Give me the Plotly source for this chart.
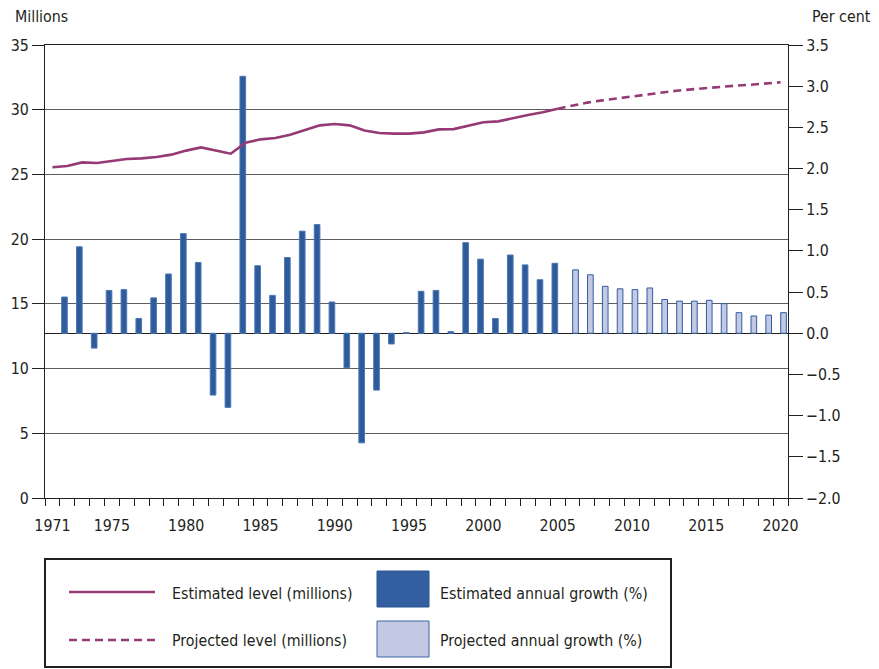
import plotly.graph_objects as go

# ---------------- data ----------------
years_est_level = list(range(1971, 2006))
est_level = [25.55, 25.65, 25.93, 25.88, 26.04, 26.19, 26.24, 26.35, 26.53, 26.84,
             27.09, 26.86, 26.60, 27.45, 27.71, 27.81, 28.07, 28.43, 28.79, 28.90,
             28.79, 28.40, 28.20, 28.15, 28.15, 28.25, 28.48, 28.50, 28.79, 29.03,
             29.10, 29.36, 29.59, 29.80, 30.08]

years_proj_level = list(range(2005, 2021))
proj_level = [30.08, 30.34, 30.55, 30.72, 30.88, 31.03, 31.19, 31.34, 31.47, 31.57,
              31.68, 31.75, 31.86, 31.93, 32.01, 32.12]

years_est_growth = list(range(1972, 2006))
est_growth = [0.44, 1.05, -0.18, 0.52, 0.53, 0.18, 0.43, 0.72, 1.21, 0.86,
              -0.75, -0.90, 3.12, 0.82, 0.46, 0.92, 1.24, 1.32, 0.38, -0.42,
              -1.33, -0.69, -0.13, 0.01, 0.51, 0.52, 0.02, 1.10, 0.90, 0.18,
              0.95, 0.83, 0.65, 0.85]

years_proj_growth = list(range(2006, 2021))
proj_growth = [0.77, 0.71, 0.57, 0.54, 0.53, 0.55, 0.41, 0.39, 0.39, 0.40,
               0.36, 0.25, 0.21, 0.22, 0.25]

x_tick_labels = [1971, 1975, 1980, 1985, 1990, 1995, 2000, 2005, 2010, 2015, 2020]

# ---------------- style ----------------
FONT = "DejaVu Sans Condensed, DejaVu Sans, sans-serif"
FS = 15.8
TXT = "#231f20"
LINE_C = "#953A74"
EST_FILL = "#2D5B9C"
EST_EDGE = "#4F78B4"
PROJ_FILL = "#C3C8E3"
PROJ_EDGE = "#2E5DA3"

W, H = 879, 669
L, R, T, B = 45, 788, 45, 498


def px(xp):
    return (xp - L) / (R - L)


def py(yp):
    return (B - yp) / (B - T)


fig = go.Figure()

fig.add_trace(go.Bar(
    x=years_est_growth, y=est_growth, name="Estimated annual growth (%)",
    yaxis="y", width=0.38, offset=-0.38,
    marker=dict(color=EST_FILL, line=dict(color=EST_EDGE, width=1)),
))
fig.add_trace(go.Bar(
    x=years_proj_growth, y=proj_growth, name="Projected annual growth (%)",
    yaxis="y", width=0.38, offset=0.01,
    marker=dict(color=PROJ_FILL, line=dict(color=PROJ_EDGE, width=1)),
))
fig.add_trace(go.Scatter(
    x=years_est_level, y=est_level, name="Estimated level (millions)",
    yaxis="y2", mode="lines", line=dict(color=LINE_C, width=2.6),
))
fig.add_trace(go.Scatter(
    x=years_proj_level, y=proj_level, name="Projected level (millions)",
    yaxis="y2", mode="lines", line=dict(color=LINE_C, width=2.6, dash="8px,5px"),
))

shapes = []
ann = []

# legend box
shapes.append(dict(type="rect", xref="paper", yref="paper",
                   x0=px(45), x1=px(671), y0=py(559), y1=py(667),
                   line=dict(color="#231f20", width=2), fillcolor="white"))
# line swatches
shapes.append(dict(type="line", xref="paper", yref="paper",
                   x0=px(69), x1=px(155), y0=py(592), y1=py(592),
                   line=dict(color=LINE_C, width=2.6)))
shapes.append(dict(type="line", xref="paper", yref="paper",
                   x0=px(69), x1=px(155), y0=py(640), y1=py(640),
                   line=dict(color=LINE_C, width=2.6, dash="8px,5px")))
# bar swatches
shapes.append(dict(type="rect", xref="paper", yref="paper",
                   x0=px(377), x1=px(429), y0=py(571), y1=py(607),
                   fillcolor="#335E9F", line=dict(color="#2A5597", width=1)))
shapes.append(dict(type="rect", xref="paper", yref="paper",
                   x0=px(377), x1=px(429), y0=py(621), y1=py(657),
                   fillcolor=PROJ_FILL, line=dict(color="#3A66A8", width=1)))

for text, xp, yp in [("Estimated level (millions)", 170, 593),
                     ("Projected level (millions)", 170, 640),
                     ("Estimated annual growth (%)", 438, 593),
                     ("Projected annual growth (%)", 438, 640)]:
    ann.append(dict(text=text, xref="paper", yref="paper", x=px(xp), y=py(yp),
                    xanchor="left", yanchor="middle", showarrow=False,
                    font=dict(family=FONT, size=FS, color=TXT)))

ann.append(dict(text="Millions", xref="paper", yref="paper", x=px(13), y=py(17),
                xanchor="left", yanchor="middle", showarrow=False,
                font=dict(family=FONT, size=FS, color=TXT)))
ann.append(dict(text="Per cent", xref="paper", yref="paper", x=px(810), y=py(17),
                xanchor="left", yanchor="middle", showarrow=False,
                font=dict(family=FONT, size=FS, color=TXT)))

fig.update_layout(
    width=W, height=H,
    margin=dict(l=L, r=W - R, t=T, b=H - B),
    paper_bgcolor="white", plot_bgcolor="white",
    showlegend=False,
    barmode="overlay",
    font=dict(family=FONT, size=FS, color=TXT),
    xaxis=dict(
        range=[1970.5, 2020.5], tickvals=x_tick_labels,
        ticks="outside", ticklen=13, tickcolor="rgba(0,0,0,0)",
        showgrid=False, zeroline=False,
        showline=True, linecolor="#231f20", linewidth=1, mirror=True,
        minor=dict(tick0=1970.5, dtick=1, ticks="outside", ticklen=7,
                   tickcolor="#231f20", tickwidth=1, showgrid=False),
        tickfont=dict(family=FONT, size=FS, color=TXT),
    ),
    yaxis=dict(
        side="right", range=[-2, 3.5], dtick=0.5, tickformat=".1f",
        ticks="outside", ticklen=14, tickcolor="#231f20",
        showgrid=False, zeroline=True, zerolinecolor="#231f20", zerolinewidth=1,
        showline=True, linecolor="#231f20", linewidth=1,
        tickfont=dict(family=FONT, size=FS, color=TXT),
    ),
    yaxis2=dict(
        side="left", overlaying="y", range=[0, 35], dtick=5,
        ticks="outside", ticklen=12, tickcolor="#231f20",
        showgrid=True, gridcolor="#5e5e5e", gridwidth=1, zeroline=False,
        showline=True, linecolor="#231f20", linewidth=1,
        tickfont=dict(family=FONT, size=FS, color=TXT),
    ),
    shapes=shapes,
    annotations=ann,
)

fig.write_html("out.html", config={"displayModeBar": False},
               post_script="document.body.style.margin='0px';")
